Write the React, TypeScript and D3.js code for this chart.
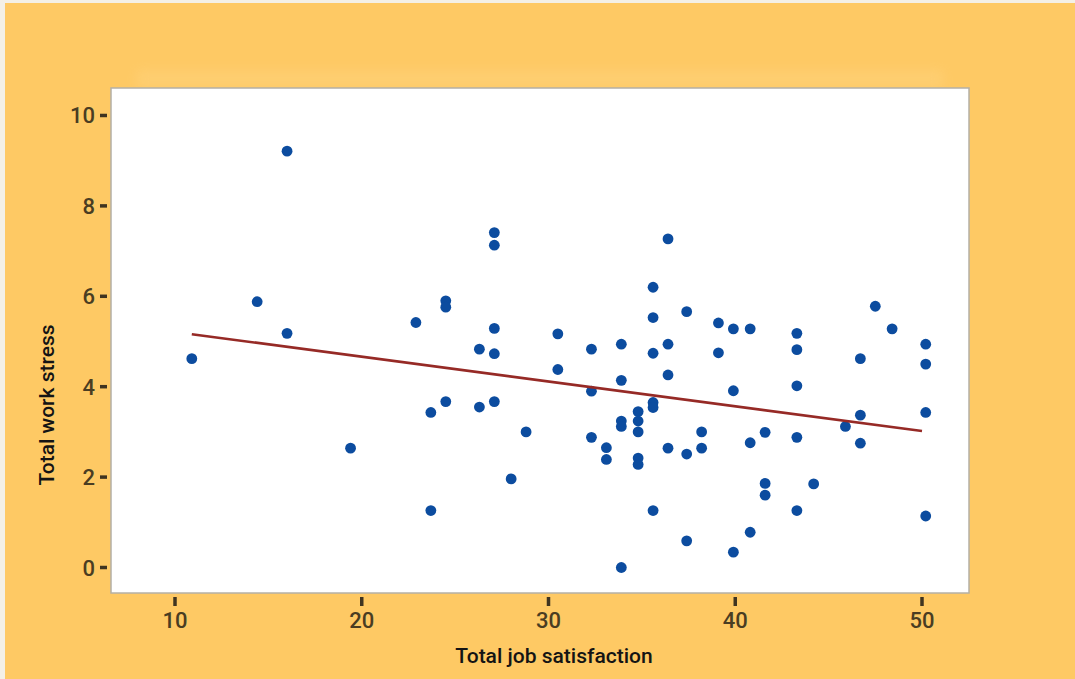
import React, { useEffect, useRef } from "react";
import * as d3 from "d3";

// Job satisfaction vs. work stress, one point per respondent
const jobSatisfaction = [
  10.9, 14.4, 16.0, 16.0, 19.4, 22.9, 23.7, 23.7, 24.5, 24.5,
  24.5, 26.3, 26.3, 27.1, 27.1, 27.1, 27.1, 27.1, 28.0, 28.8,
  30.5, 30.5, 32.3, 32.3, 32.3, 33.1, 33.1, 33.9, 33.9, 33.9,
  33.9, 33.9, 34.8, 34.8, 34.8, 34.8, 34.8, 35.6, 35.6, 35.6,
  35.6, 35.6, 35.6, 36.4, 36.4, 36.4, 36.4, 37.4, 37.4, 37.4,
  38.2, 38.2, 39.1, 39.1, 39.9, 39.9, 39.9, 40.8, 40.8, 40.8,
  41.6, 41.6, 41.6, 43.3, 43.3, 43.3, 43.3, 43.3, 44.2, 45.9,
  46.7, 46.7, 46.7, 47.5, 48.4, 50.2, 50.2, 50.2, 50.2,
];
const workStress = [
  4.62, 5.88, 9.21, 5.18, 2.64, 5.42, 3.43, 1.26, 5.9, 5.76,
  3.67, 4.83, 3.55, 7.41, 7.13, 5.29, 4.73, 3.67, 1.96, 3.0,
  5.17, 4.38, 4.83, 3.9, 2.88, 2.65, 2.39, 4.94, 4.14, 3.24,
  3.12, 0.0, 3.45, 3.24, 3.0, 2.42, 2.28, 6.2, 5.53, 4.74,
  3.65, 3.54, 1.26, 7.27, 4.94, 4.26, 2.64, 5.66, 2.51, 0.59,
  3.0, 2.64, 5.41, 4.75, 5.28, 3.91, 0.34, 5.28, 2.76, 0.78,
  2.99, 1.86, 1.6, 5.18, 4.82, 4.02, 2.88, 1.26, 1.85, 3.12,
  4.62, 3.37, 2.75, 5.78, 5.28, 4.94, 4.5, 3.43, 1.14,
];

// Linear fit: stress = intercept + slope * satisfaction
const fitIntercept = 5.759;
const fitSlope = -0.0548;
const fitRange = [10.9, 50.0];

const xTicks = [10, 20, 30, 40, 50];
const yTicks = [0, 2, 4, 6, 8, 10];
const xTitle = "Total job satisfaction";
const yTitle = "Total work stress";

const W = 1075;
const H = 679;
const panel = { left: 111, right: 969, top: 88, bottom: 593 };

export default function App() {
  const ref = useRef<SVGSVGElement | null>(null);

  useEffect(() => {
    const svg = d3.select(ref.current);
    svg.selectAll("*").remove();

    const x = d3.scaleLinear().domain([6.573, 52.517]).range([panel.left, panel.right]);
    const y = d3.scaleLinear().domain([-0.564, 10.608]).range([panel.bottom, panel.top]);

    const defs = svg.append("defs");
    defs.append("filter").attr("id", "glow").attr("x", "-10%").attr("y", "-60%").attr("width", "120%").attr("height", "220%")
      .append("feGaussianBlur").attr("stdDeviation", 6);

    svg.append("rect").attr("width", W).attr("height", H).attr("fill", "#f4f0e6");
    svg.append("rect").attr("x", 5).attr("y", 3).attr("width", W - 5).attr("height", H - 3).attr("fill", "#fec964");

    // soft glow above the panel
    svg.append("rect")
      .attr("x", panel.left + 25).attr("y", 70)
      .attr("width", panel.right - panel.left - 50).attr("height", 18)
      .attr("fill", "#ffd88a").attr("opacity", 0.35)
      .attr("filter", "url(#glow)");

    svg.append("rect")
      .attr("x", panel.left).attr("y", panel.top)
      .attr("width", panel.right - panel.left).attr("height", panel.bottom - panel.top)
      .attr("fill", "#ffffff").attr("stroke", "#b4b0a6").attr("stroke-width", 1.5);

    const tickColor = "#3f3420";
    const labelColor = "#4a3d22";
    const font = "Roboto, 'Noto Sans', sans-serif";

    // y axis
    const gy = svg.append("g");
    yTicks.forEach((t) => {
      gy.append("line")
        .attr("x1", 100).attr("x2", 107).attr("y1", y(t)).attr("y2", y(t))
        .attr("stroke", tickColor).attr("stroke-width", 3.5);
      gy.append("text")
        .attr("x", 95).attr("y", y(t) + 8)
        .attr("text-anchor", "end")
        .attr("font-family", font).attr("font-weight", 500).attr("font-size", 22)
        .attr("fill", labelColor)
        .text(d3.format("d")(t));
    });

    // x axis
    const gx = svg.append("g");
    xTicks.forEach((t) => {
      gx.append("line")
        .attr("x1", x(t)).attr("x2", x(t)).attr("y1", 597).attr("y2", 606)
        .attr("stroke", tickColor).attr("stroke-width", 3.5);
      gx.append("text")
        .attr("x", x(t)).attr("y", 628)
        .attr("text-anchor", "middle")
        .attr("font-family", font).attr("font-weight", 500).attr("font-size", 22)
        .attr("fill", labelColor)
        .text(d3.format("d")(t));
    });

    svg.append("text")
      .attr("x", 554).attr("y", 663)
      .attr("text-anchor", "middle")
      .attr("font-family", font).attr("font-weight", 500).attr("font-size", 21)
      .attr("fill", "#141414")
      .text(xTitle);

    svg.append("text")
      .attr("transform", `translate(54,405) rotate(-90)`)
      .attr("text-anchor", "middle")
      .attr("font-family", font).attr("font-weight", 500).attr("font-size", 21)
      .attr("fill", "#141414")
      .text(yTitle);

    // points
    const data = jobSatisfaction.map((v, i) => ({ x: v, y: workStress[i] }));
    svg.append("g")
      .selectAll("circle")
      .data(data)
      .join("circle")
      .attr("cx", (d) => x(d.x))
      .attr("cy", (d) => y(d.y))
      .attr("r", 5.4)
      .attr("fill", "#0c4c9f");

    // fitted line
    const line = d3.line<number>()
      .x((v) => x(v))
      .y((v) => y(fitIntercept + fitSlope * v));
    svg.append("path")
      .attr("d", line(fitRange))
      .attr("fill", "none")
      .attr("stroke", "#962a26")
      .attr("stroke-width", 2.6);
  }, []);

  return (
    <svg
      ref={ref}
      width={W}
      height={H}
      style={{ position: "absolute", left: 0, top: 0, display: "block" }}
    />
  );
}
